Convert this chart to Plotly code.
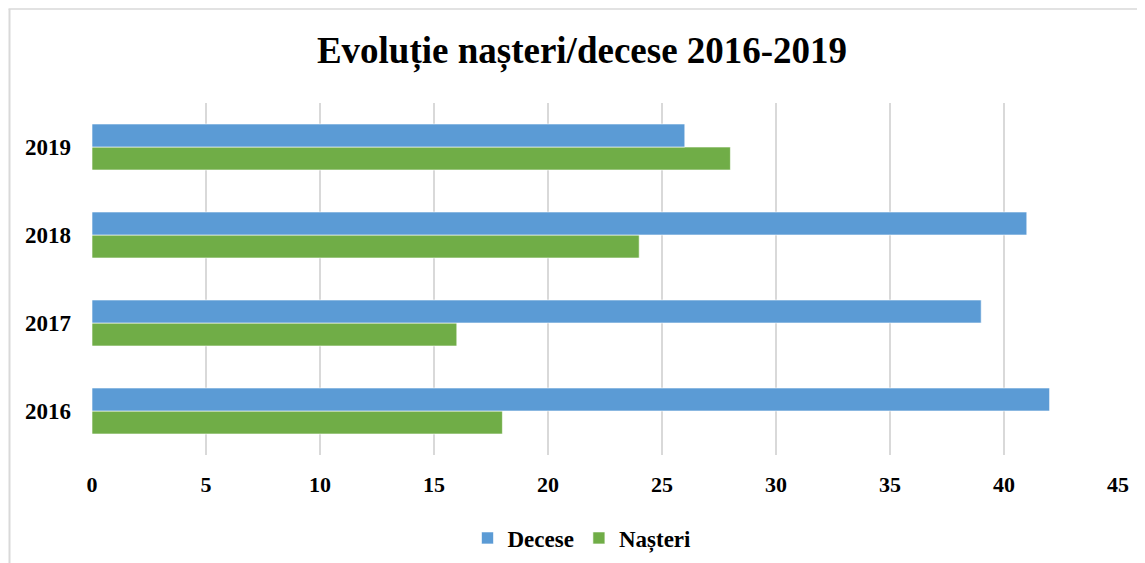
import plotly.graph_objects as go

years = ["2016", "2017", "2018", "2019"]
decese = [42, 39, 41, 26]
nasteri = [18, 16, 24, 28]
x_ticks = [0, 5, 10, 15, 20, 25, 30, 35, 40, 45]

O = 8  # page body margin offset
W, H = 1145 - O, 563 - O
L, R, T, B = 92 - O, 27, 103 - O, 108
pw, ph = W - L - R, H - T - B

font_family = "Liberation Serif, Times New Roman, serif"


def px_x(page_x):
    return (page_x - O - L) / pw


def px_y(page_y):
    return 1 - (page_y - O - T) / ph


fig = go.Figure()
fig.add_trace(go.Bar(
    y=years, x=nasteri, name="Nașteri", orientation="h",
    marker=dict(color="#70AD47", line=dict(color="rgba(255,255,255,0.6)", width=1)),
    legendrank=2,
))
fig.add_trace(go.Bar(
    y=years, x=decese, name="Decese", orientation="h",
    marker=dict(color="#5B9BD5", line=dict(color="rgba(255,255,255,0.6)", width=1)),
    legendrank=1,
))

# chart border lines (left and top)
fig.add_shape(type="line", xref="paper", yref="paper",
              x0=px_x(9.5), x1=px_x(9.5), y0=px_y(9), y1=px_y(570),
              line=dict(color="#D9D9D9", width=2), layer="below")
fig.add_shape(type="line", xref="paper", yref="paper",
              x0=px_x(8.5), x1=px_x(1150), y0=px_y(9), y1=px_y(9),
              line=dict(color="#D9D9D9", width=1.5), layer="below")

fig.update_layout(
    width=W, height=H,
    margin=dict(l=L, r=R, t=T, b=B, autoexpand=False),
    paper_bgcolor="white", plot_bgcolor="white",
    barmode="group", bargap=0.477, bargroupgap=0,
    title=dict(text="<b>Evoluție nașteri/decese 2016-2019</b>",
               x=(582 - O) / W, xanchor="center", y=1 - (50 - O) / H, yanchor="middle",
               font=dict(family=font_family, size=37, color="black")),
    font=dict(family=font_family, color="black"),
    legend=dict(orientation="h", x=px_x(582), xanchor="center",
                y=px_y(538), yanchor="middle",
                font=dict(family=font_family, size=23, color="black", weight="bold"),
                itemwidth=30, traceorder="normal"),
    showlegend=True,
)
fig.update_xaxes(
    range=[0, 45], tickvals=x_ticks, ticktext=[str(v) for v in x_ticks],
    showgrid=True, gridcolor="#D9D9D9", gridwidth=1.5,
    zeroline=False, showline=False, ticks="",
    ticklabelstandoff=14,
    tickfont=dict(family=font_family, size=22, color="black", weight="bold"),
    fixedrange=True,
)
fig.update_yaxes(
    categoryorder="array", categoryarray=years,
    showgrid=False, zeroline=False, showline=False, ticks="",
    ticklabelstandoff=20,
    tickfont=dict(family=font_family, size=23, color="black", weight="bold"),
    fixedrange=True,
)

fig.write_html("out.html", config={"displayModeBar": False})
